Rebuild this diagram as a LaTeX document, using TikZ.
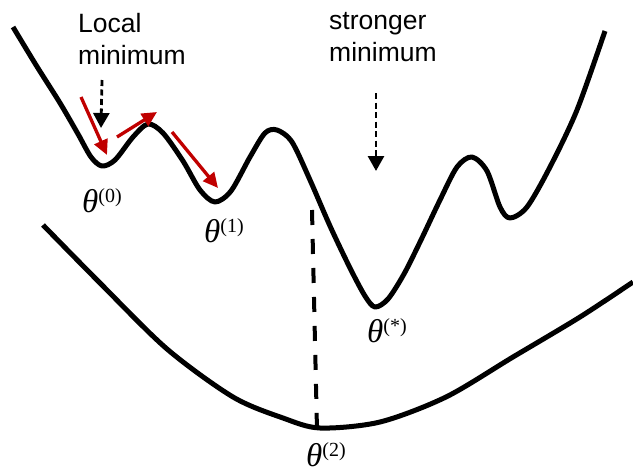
\documentclass[tikz,border=0pt]{standalone}
\usepackage{fontspec}
\setmainfont{Liberation Serif}
\newfontfamily\arialfam{Liberation Sans}
\usetikzlibrary{arrows.meta}
\definecolor{arrred}{HTML}{C00000}
\newcommand{\thlab}[1]{{\fontsize{33}{33}\selectfont\itshape θ}\raisebox{10pt}{\fontsize{20}{20}\selectfont(#1)}}
\begin{document}
\begin{tikzpicture}[x=1pt,y=-1pt,
  curve/.style={line width=5pt, line join=round},
  redarrow/.style={draw=arrred, line width=3.3pt, -{Triangle[length=15pt,width=14pt,fill=arrred]}},
  blackarrow/.style={draw=black, line width=2.8pt, dash pattern=on 6pt off 3.5pt, -{Triangle[length=15pt,width=16pt]}},
  droppath/.style={draw=black, line width=4pt, dash pattern=on 15pt off 14pt},
  lab/.style={inner sep=0pt, anchor=base west},
  txt/.style={inner sep=0pt, anchor=north west, align=left, font=\arialfam\fontsize{26.5}{32}\selectfont}]
\useasboundingbox (0,0) rectangle (633,474);

% top (rugged) loss curve
\draw[curve] plot[smooth, tension=0.5] coordinates {
 (13,27) (36,65) (60,103) (78,134) (91,157) (102,166) (115,160) (133,137)
 (148,124) (163,133) (183,161) (200,190) (215,202) (231,191) (250,157)
 (265,133) (277,130) (292,142) (310,180) (330,226) (350,268) (365,296)
 (375,307) (388,299) (404,274) (421,240) (440,200) (457,167) (472,157)
 (487,171) (500,207) (510,218) (527,207) (550,167) (577,110) (605,31)};

% bottom (smooth) loss curve
\draw[curve] plot[smooth, tension=0.5] coordinates {
 (43,225) (100,283) (167,349) (233,397) (283,418) (320,428) (380,422)
 (446,397) (513,357) (580,317) (633,282)};

% vertical dashed drop
\coordinate (dtop) at (312,210);
\coordinate (dbot) at (317,430);
\draw[droppath] (dtop) -- (dbot);

% red step arrows
\coordinate (r1s) at (81,97);  \coordinate (r1e) at (107,155);
\coordinate (r2s) at (117,137); \coordinate (r2e) at (157,112);
\coordinate (r3s) at (172,132); \coordinate (r3e) at (218,188);
\draw[redarrow] (r1s) -- (r1e);
\draw[redarrow] (r2s) -- (r2e);
\draw[redarrow] (r3s) -- (r3e);

% text labels
\node[txt] (local) at (78,13) {Local\\minimum};
\node[txt] (strong) at (329,12) {stronger\\minimum};

% dashed pointer arrows
\coordinate (a1s) at (102,80);  \coordinate (a1e) at (101,128);
\coordinate (a2s) at (376,93);  \coordinate (a2e) at (376,171);
\draw[blackarrow] (a1s) -- (a1e);
\draw[blackarrow] (a2s) -- (a2e);

% theta labels
\node[lab] (t0) at (82,212) {\thlab{0}};
\node[lab] (t1) at (204,242) {\thlab{1}};
\node[lab] (ts) at (367,342) {\thlab{*}};
\node[lab] (t2) at (306,466) {\thlab{2}};
\end{tikzpicture}
\end{document}
